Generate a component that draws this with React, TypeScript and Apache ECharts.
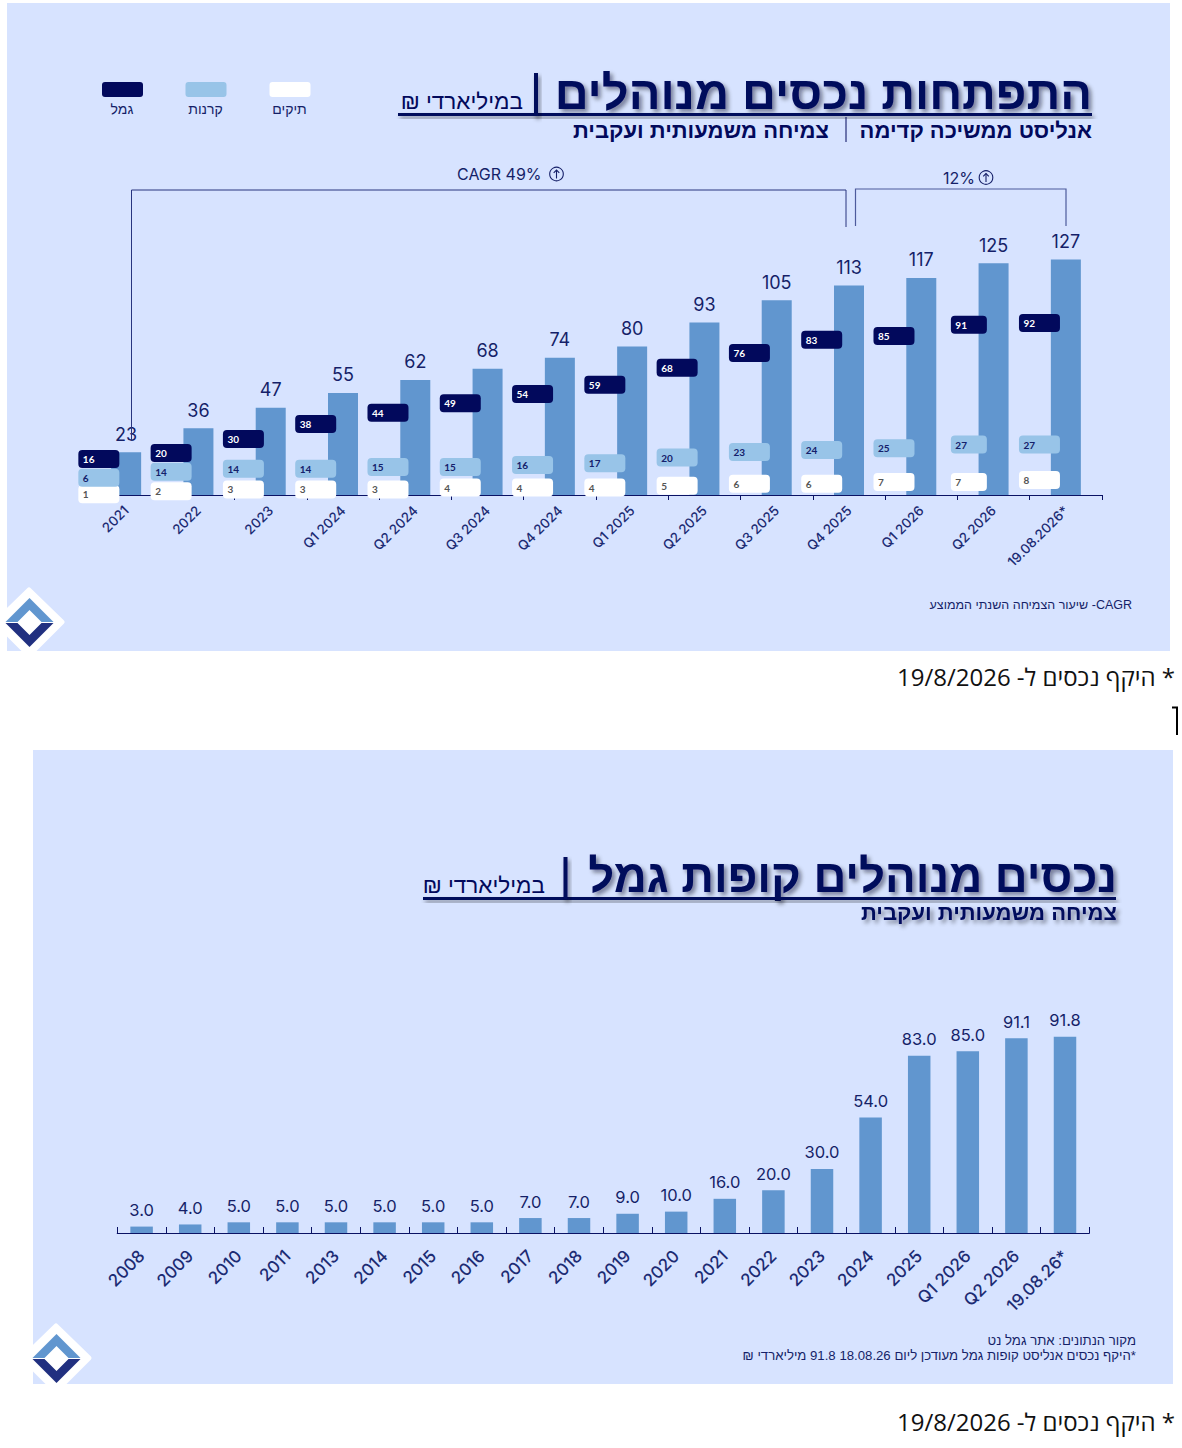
import React, { useEffect, useRef } from "react";
import * as echarts from "echarts";

const periods = ["2021","2022","2023","Q1 2024","Q2 2024","Q3 2024","Q4 2024","Q1 2025","Q2 2025","Q3 2025","Q4 2025","Q1 2026","Q2 2026","19.08.2026*"];
const totalAssets = [23,36,47,55,62,68,74,80,93,105,113,117,125,127];
const gemelAssets = [16,20,30,38,44,49,54,59,68,76,83,85,91,92];
const kerenAssets = [6,14,14,14,15,15,16,17,20,23,24,25,27,27];
const tikimAssets = [1,2,3,3,3,4,4,4,5,6,6,7,7,8];

const gemelYears = ["2008","2009","2010","2011","2013","2014","2015","2016","2017","2018","2019","2020","2021","2022","2023","2024","2025","Q1 2026","Q2 2026","19.08.26*"];
const gemelValues = [3,4,5,5,5,5,5,5,7,7,9,10,16,20,30,54,83,85,91.1,91.8];

const NAVY = "#02095c";
const INK = "#151f68";
const BAR = "#6196cf";
const SKY = "#98c4e8";
const PANEL = "#d7e3ff";
const LATIN = "Inter, 'Liberation Sans', sans-serif";
const HEB = "'Liberation Sans', Arial, sans-serif";
const RLM = "\u200F";
const RLE = "\u202B";
const PDF = "\u202C";

// The two scales of the top chart: bars and pills sit on slightly different pixel scales
const BAR_SCALE = 1.855;
const PILL_SCALE = 1.87;

// Hand-placed pills in the first two columns (pixel nudges, as in the reference)
const nudges: Record<string, Record<number, number>> = {
  gemel: { 0: -6, 1: -4.5 },
  keren: { 0: -6, 1: 3 },
  tikim: { 0: 1 },
};

function pillSeries(name: string, key: string, values: number[], fill: string, textFill: string, z: number) {
  return {
    type: "custom",
    name,
    xAxisIndex: 0,
    yAxisIndex: 0,
    z,
    clip: false,
    data: values.map((v, i) => [i, v]),
    encode: { x: 0, y: 1 },
    renderItem: (params: any, api: any) => {
      const i = params.dataIndex;
      const v = api.value(1);
      const p = api.coord([api.value(0), v]);
      const narrow = i === 12;
      const w = narrow ? 36 : 41;
      const h = 18;
      const cx = p[0] + (narrow ? -24.7 : i === 13 ? -26.4 : -27.3);
      const cy = p[1] - v * (PILL_SCALE - BAR_SCALE) + (nudges[key][i] || 0);
      return {
        type: "group",
        children: [
          { type: "rect", shape: { x: cx - w / 2, y: cy - h / 2, width: w, height: h, r: 4 }, style: { fill } },
          {
            type: "text",
            style: {
              x: cx - w / 2 + 4.5,
              y: cy,
              text: String(v),
              fill: textFill,
              font: "bold 10px Lato, sans-serif",
              textAlign: "left",
              textVerticalAlign: "middle",
            },
          },
        ],
      };
    },
  };
}

function txt(text: string, x: number, y: number, size: number, opts: any = {}) {
  const { weight, fill, align, family, shadow, z } = opts;
  const style: any = {
    text,
    x,
    y,
    fill: fill || INK,
    font: `${weight || "normal"} ${size}px ${family || HEB}`,
    textAlign: align || "right",
    textVerticalAlign: "middle",
  };
  if (shadow) {
    style.textShadowColor = "rgba(0,0,30,0.45)";
    style.textShadowBlur = 4;
    style.textShadowOffsetX = 3;
    style.textShadowOffsetY = 3;
  }
  return { type: "text", z: z ?? 5, style };
}

function line(pts: number[][], stroke: string, lineWidth: number) {
  return { type: "polyline", z: 5, shape: { points: pts }, style: { stroke, lineWidth, fill: "none" } };
}

// Header rules are thin rects so their soft shadow has an area to filter
function rule(x: number, y: number, width: number, height: number) {
  return {
    type: "rect",
    z: 5,
    shape: { x, y, width, height },
    style: {
      fill: NAVY,
      shadowColor: "rgba(0,0,30,0.45)",
      shadowBlur: 4,
      shadowOffsetX: 2,
      shadowOffsetY: 3,
    },
  };
}

function upIcon(cx: number, cy: number) {
  return [
    { type: "circle", z: 5, shape: { cx, cy, r: 6.8 }, style: { fill: "none", stroke: INK, lineWidth: 1.1 } },
    line([[cx, cy + 4.5], [cx, cy - 4]], INK, 1.1),
    line([[cx - 2.8, cy - 1.2], [cx, cy - 4], [cx + 2.8, cy - 1.2]], INK, 1.1),
  ];
}

function logo(dx: number, dy: number) {
  const shift = (pts: number[][]) => pts.map(([x, y]) => [x + dx, y + dy]);
  return [
    {
      type: "polygon",
      z: 4,
      shape: { points: shift([[29, 590], [62, 622], [29, 655], [-4, 622]]) },
      style: { fill: "#ffffff", stroke: "#ffffff", lineWidth: 5, lineJoin: "round" },
    },
    {
      type: "polygon",
      z: 5,
      shape: { points: shift([[29.5, 598], [53.5, 622], [41.5, 622], [29.5, 610], [17.5, 622], [5.5, 622]]) },
      style: { fill: BAR },
    },
    {
      type: "polygon",
      z: 5,
      shape: { points: shift([[5.5, 623], [17.5, 623], [29.5, 635], [41.5, 623], [53.5, 623], [29.5, 647]]) },
      style: { fill: "#213080" },
    },
  ];
}

function legendItem(x: number, fill: string, label: string) {
  return [
    { type: "rect", z: 5, shape: { x, y: 82, width: 41, height: 15, r: 3 }, style: { fill } },
    txt(label, x + 20, 109, 14, { align: "center" }),
  ];
}

function buildOption() {
  const footnote = `${RLM}* היקף נכסים ל- 19/8/2026`;
  const elements: any[] = [
    { type: "rect", z: -10, shape: { x: 7, y: 3, width: 1163, height: 648 }, style: { fill: PANEL } },
    { type: "rect", z: -10, shape: { x: 33, y: 750, width: 1140, height: 634 }, style: { fill: PANEL } },

    // Top panel header
    txt("התפתחות נכסים מנוהלים", 1092, 92, 47, { weight: "bold", fill: NAVY, shadow: true }),
    rule(398, 113, 694, 3),
    rule(534, 73, 4, 43),
    txt(`במיליארדי ₪${RLM}`, 523, 101, 22.5, { fill: NAVY, family: HEB }),
    txt("אנליסט ממשיכה קדימה", 1092, 130, 22, { weight: "bold", fill: NAVY }),
    line([[846, 117], [846, 142]], NAVY, 1),
    txt("צמיחה משמעותית ועקבית", 829, 130, 22, { weight: "bold", fill: NAVY }),
    ...legendItem(102, NAVY, "גמל"),
    ...legendItem(185.5, SKY, "קרנות"),
    ...legendItem(269.5, "#ffffff", "תיקים"),

    // Growth brackets
    line([[131.5, 441], [131.5, 190], [846, 190], [846, 227]], "#28357f", 1),
    line([[855.5, 226], [855.5, 189], [1066, 189], [1066, 226]], "#4d5b9c", 1.2),
    txt("CAGR 49%", 457, 174, 16, { family: LATIN, align: "left" }),
    ...upIcon(556.5, 174),
    txt("12%", 943, 177.5, 16, { family: LATIN, align: "left" }),
    ...upIcon(986, 177.5),
    txt(`${RLE}CAGR- שיעור הצמיחה השנתי הממוצע${PDF}`, 1132, 605, 12.5, {}),

    ...logo(0, 0),
    txt(footnote, 1175, 676.5, 24, { fill: "#111111", family: "'Open Sans', sans-serif" }),
    line([[1172, 707.5], [1177, 707.5], [1177, 735]], "#000000", 2),

    // Bottom panel header
    txt("נכסים מנוהלים קופות גמל", 1117, 876, 45.5, { weight: "bold", fill: NAVY, shadow: true }),
    rule(423, 897, 693, 3),
    rule(563.5, 857, 4, 42),
    txt(`במיליארדי ₪${RLM}`, 545, 885, 22.5, { fill: NAVY }),
    txt("צמיחה משמעותית ועקבית", 1117, 912, 22, { weight: "bold", fill: NAVY, shadow: true }),

    txt("מקור הנתונים: אתר גמל נט", 1136, 1340, 13.2, {}),
    txt(`${RLM}*היקף נכסים אנליסט קופות גמל מעודכן ליום 18.08.26 91.8 מיליארדי ₪${RLM}`, 1136, 1355, 13.2, {}),

    ...logo(27, 736),
    txt(footnote, 1175, 1421.5, 24, { fill: "#111111", family: "'Open Sans', sans-serif" }),
  ];

  return {
    animation: false,
    graphic: { elements },
    grid: [
      { left: 90, width: 1012, top: 495 - 140 * BAR_SCALE, height: 140 * BAR_SCALE },
      { left: 117.3, width: 972, top: 1233 - 213.7, height: 213.7 },
    ],
    xAxis: [
      {
        type: "category",
        gridIndex: 0,
        data: periods,
        axisLine: { lineStyle: { color: "#0a1264", width: 1.2 } },
        axisTick: { show: true, length: 5, lineStyle: { color: "#0a1264" } },
        axisLabel: {
          rotate: 45,
          interval: 0,
          margin: 13,
          fontFamily: LATIN,
          fontSize: 13.5,
          fontWeight: 500,
          color: "#1c2b73",
        },
      },
      {
        type: "category",
        gridIndex: 1,
        data: gemelYears,
        axisLine: { lineStyle: { color: "#0a1264", width: 1.2 } },
        axisTick: { show: true, inside: true, length: 6, lineStyle: { color: "#0a1264" } },
        axisLabel: {
          rotate: 45,
          interval: 0,
          margin: 20,
          fontFamily: LATIN,
          fontSize: 17,
          fontWeight: 500,
          color: "#1c2b73",
        },
      },
    ],
    yAxis: [
      { type: "value", gridIndex: 0, min: 0, max: 140, show: false },
      { type: "value", gridIndex: 1, min: 0, max: 100, show: false },
    ],
    series: [
      {
        type: "bar",
        name: "סך נכסים",
        xAxisIndex: 0,
        yAxisIndex: 0,
        data: totalAssets,
        barWidth: 30,
        z: 2,
        itemStyle: { color: BAR },
        label: {
          show: true,
          position: "top",
          distance: 9,
          fontFamily: LATIN,
          fontSize: 18,
          color: INK,
        },
      },
      pillSeries("תיקים", "tikim", tikimAssets, "#ffffff", "#555555", 3),
      pillSeries("קרנות", "keren", kerenAssets, SKY, "#14206b", 4),
      pillSeries("גמל", "gemel", gemelAssets, NAVY, "#ffffff", 5),
      {
        type: "bar",
        name: "נכסים מנוהלים קופות גמל",
        xAxisIndex: 1,
        yAxisIndex: 1,
        data: gemelValues,
        barWidth: 22.5,
        z: 2,
        itemStyle: { color: BAR },
        label: {
          show: true,
          position: "top",
          distance: 8,
          fontFamily: LATIN,
          fontSize: 16.5,
          color: INK,
          formatter: (p: any) => Number(p.value).toFixed(1),
        },
      },
    ],
  };
}

export default function App() {
  const ref = useRef<HTMLDivElement>(null);
  useEffect(() => {
    const chart = echarts.init(ref.current, undefined, { renderer: "svg" });
    chart.setOption(buildOption() as any);
    return () => chart.dispose();
  }, []);
  return (
    <div
      ref={ref}
      style={{ position: "absolute", left: 0, top: 0, width: 1182, height: 1448, background: "#ffffff" }}
    />
  );
}
